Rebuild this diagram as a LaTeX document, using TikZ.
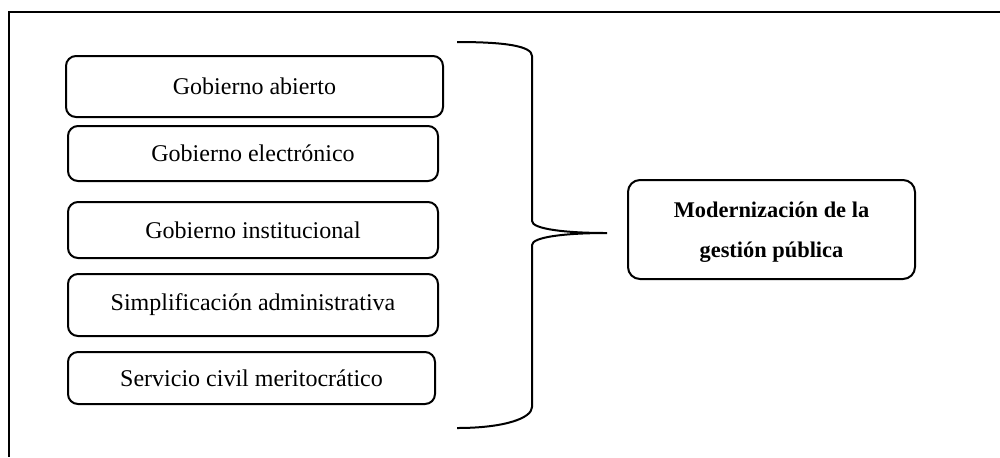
\documentclass[tikz,border=0pt]{standalone}
\usepackage{fontspec}
\setmainfont{Liberation Serif}
\begin{document}
\begin{tikzpicture}[x=0.5pt,y=-0.5pt,
  item/.style={draw,line width=1pt,rounded corners=5pt,font=\fontsize{12}{14}\selectfont,
    inner sep=0pt,align=center},
  goal/.style={draw,line width=1pt,rounded corners=6pt,font=\fontsize{11.2}{20}\selectfont\bfseries,
    inner sep=0pt,align=center,minimum width=143.5pt,minimum height=49.5pt},
  brace/.style={line width=1pt}]
\useasboundingbox (0,0) rectangle (1000,457);
% frame: top and left edges
\draw[line width=1pt] (1000,12) -- (9,12) -- (9,457);
% list of components
\node[item,minimum width=188.5pt,minimum height=30.5pt] (a) at (254.5,86.5) {Gobierno abierto};
\node[item,minimum width=185pt,minimum height=27.5pt] (b) at (253,153.5) {Gobierno electrónico};
\node[item,minimum width=185pt,minimum height=28pt] (c) at (253,230) {Gobierno institucional};
\node[item,minimum width=185pt,minimum height=31pt] (d) at (253,305) {Simplificación administrativa};
\node[item,minimum width=183.5pt,minimum height=26pt] (e) at (251.5,378) {Servicio civil meritocrático};
% result
\node[goal] (m) at (771.5,229.5) {\raisebox{-2pt}{\begin{tabular}{@{}c@{}}Modernización de la\\gestión pública\end{tabular}}};
% brace
\coordinate (bt) at (457,42);
\coordinate (bb) at (457,428);
\coordinate (tip) at (607,233);
\draw[brace] (bt) .. controls (505,42) and (532,46) .. (532,56) -- (532,221)
  .. controls (532,229) and (565,233) .. (tip)
  .. controls (565,233) and (532,237) .. (532,245) -- (532,407)
  .. controls (532,418) and (505,428) .. (bb);
\end{tikzpicture}
\end{document}
